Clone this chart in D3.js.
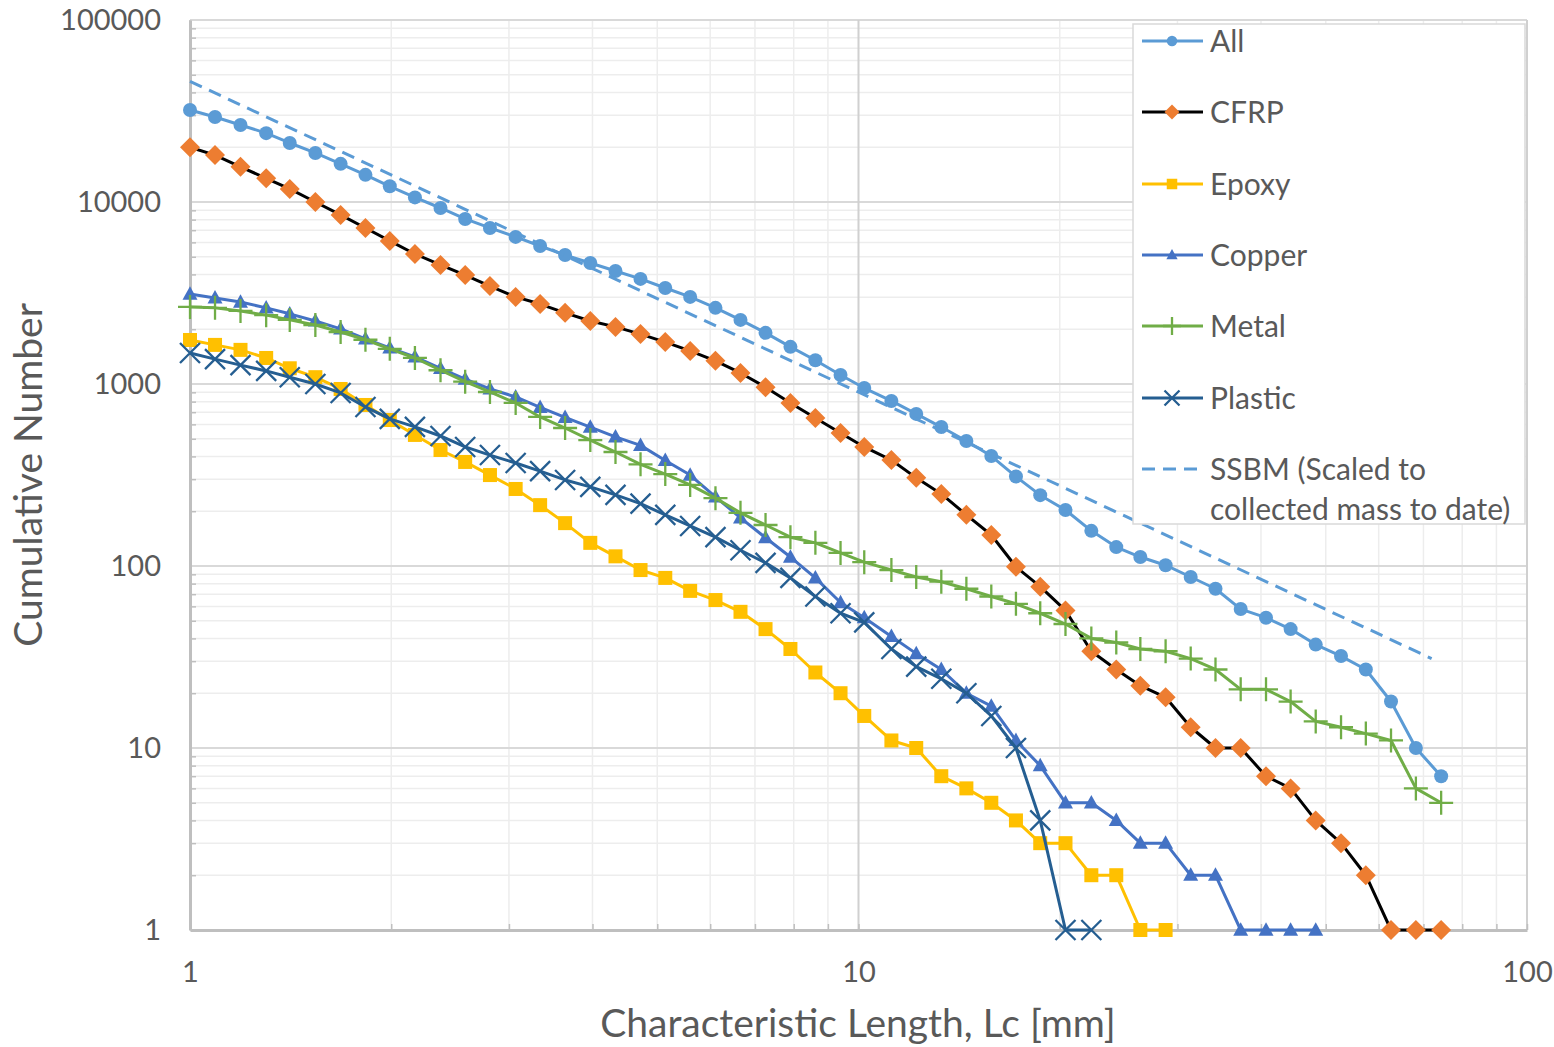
<!DOCTYPE html>
<html><head><meta charset="utf-8">
<script src="https://cdn.jsdelivr.net/npm/d3@7"></script>
<style>
body{margin:0;background:#fff;}
svg{display:block;}
text{font-family:Lato,"Open Sans",sans-serif;fill:#595959;}
</style>
</head><body>
<svg id="chart" width="1554" height="1047"></svg>
<script>
// ---- data ----
const lc = [1, 1.09, 1.19, 1.30, 1.41, 1.54, 1.68, 1.83, 1.99, 2.17, 2.37, 2.58, 2.81, 3.07, 3.34, 3.64, 3.97, 4.33, 4.72, 5.14,
  5.60, 6.11, 6.66, 7.26, 7.91, 8.62, 9.40, 10.2, 11.2, 12.2, 13.3, 14.5, 15.8, 17.2, 18.7, 20.4, 22.3, 24.3, 26.4, 28.8,
  31.4, 34.2, 37.3, 40.7, 44.3, 48.3, 52.7, 57.4, 62.6, 68.2, 74.4];
const allN = [32000, 29300, 26500, 23900, 21100, 18600, 16200, 14100, 12200, 10600, 9270, 8070, 7200, 6430, 5730, 5110, 4620, 4180, 3780, 3370,
  3010, 2620, 2250, 1910, 1600, 1350, 1120, 950, 807, 685, 580, 486, 402, 310, 245, 203, 156, 127, 112, 101,
  87, 75, 58, 52, 45, 37, 32, 27, 18, 10, 7];
const cfrpN = [20000, 18100, 15600, 13500, 11800, 10000, 8490, 7200, 6110, 5180, 4510, 3970, 3450, 3010, 2750, 2460, 2220, 2060, 1880, 1700,
  1520, 1340, 1150, 960, 787, 651, 538, 451, 382, 305, 249, 191, 148, 99, 77, 57, 34, 27, 22, 19,
  13, 10, 10, 7, 6, 4, 3, 2, 1, 1, 1];
const epoxyN = [1745, 1640, 1540, 1390, 1220, 1090, 939, 767, 634, 525, 434, 373, 316, 265, 216, 172, 134, 113, 95, 86,
  73, 65, 56, 45, 35, 26, 20, 15, 11, 10, 7, 6, 5, 4, 3, 3, 2, 2, 1, 1];
const copperN = [3120, 2970, 2820, 2620, 2430, 2220, 2010, 1770, 1580, 1410, 1220, 1065, 939, 849, 745, 655, 580, 512, 460, 380,
  316, 240, 184, 143, 112, 86, 63, 52, 41, 33, 27, 20, 17, 11, 8, 5, 5, 4, 3, 3,
  2, 2, 1, 1, 1, 1];
const metalN = [2650, 2620, 2520, 2390, 2250, 2110, 1930, 1750, 1560, 1390, 1190, 1030, 904, 787, 659, 573, 492, 423, 362, 320,
  279, 236, 196, 168, 144, 134, 118, 105, 95, 87, 82, 75, 68, 62, 55, 48, 40, 38, 35, 34,
  31, 27, 21, 21, 18, 14, 13, 12, 11, 6, 5];
const plasticN = [1480, 1370, 1270, 1180, 1090, 1000, 893, 748, 643, 581, 518, 451, 407, 368, 332, 297, 272, 246, 220, 191,
  166, 144, 122, 104, 86, 68, 55, 49, 35, 28, 24, 20, 15, 10, 4, 1, 1];
const ssbmLc = [1, 72];
const ssbmN = [46000, 31];

const seriesNames = ["All", "CFRP", "Epoxy", "Copper", "Metal", "Plastic"];
const ssbmName = ["SSBM (Scaled to", "collected mass to date)"];
const yTickValues = [1, 10, 100, 1000, 10000, 100000];
const xTickValues = [1, 10, 100];
const xTitle = "Characteristic Length, Lc [mm]";
const yTitle = "Cumulative Number";

// ---- styles ----
const styles = {
  "All":     {line: "#5B9BD5", fill: "#5B9BD5", marker: "circle",   lw: 3},
  "CFRP":    {line: "#000000", fill: "#ED7D31", marker: "diamond",  lw: 3},
  "Epoxy":   {line: "#FFC000", fill: "#FFC000", marker: "square",   lw: 3},
  "Copper":  {line: "#4472C4", fill: "#4472C4", marker: "triangle", lw: 3},
  "Metal":   {line: "#70AD47", fill: "#70AD47", marker: "plus",     lw: 3},
  "Plastic": {line: "#255E91", fill: "#255E91", marker: "cross",    lw: 3}
};
const seriesValues = [allN, cfrpN, epoxyN, copperN, metalN, plasticN];

const L = 190, R = 1527, T = 20, B = 930;
const svg = d3.select("#chart");
const x = d3.scaleLog().domain([1, 100]).range([L, R]);
const y = d3.scaleLog().domain([1, 100000]).range([B, T]);

// minor values
const yMinor = [], xMinor = [];
for (let d = 1; d < 100000; d *= 10) for (let k = 2; k <= 9; k++) yMinor.push(d * k);
for (let d = 1; d < 100; d *= 10) for (let k = 2; k <= 9; k++) xMinor.push(d * k);

// gridlines
const grid = svg.append("g");
grid.selectAll(".hmin").data(yMinor).join("line")
  .attr("x1", L).attr("x2", R).attr("y1", d => y(d)).attr("y2", d => y(d))
  .attr("stroke", "#ededed").attr("stroke-width", 1.5);
grid.selectAll(".vmin").data(xMinor).join("line")
  .attr("y1", T).attr("y2", B).attr("x1", d => x(d)).attr("x2", d => x(d))
  .attr("stroke", "#ededed").attr("stroke-width", 1.5);
grid.selectAll(".hmaj").data(yTickValues).join("line")
  .attr("x1", L).attr("x2", R).attr("y1", d => y(d)).attr("y2", d => y(d))
  .attr("stroke", "#d9d9d9").attr("stroke-width", 2);
grid.selectAll(".vmaj").data(xTickValues).join("line")
  .attr("y1", T).attr("y2", B).attr("x1", d => x(d)).attr("x2", d => x(d))
  .attr("stroke", "#d0d0d0").attr("stroke-width", 2);

// axes
const yAxis = d3.axisLeft(y).tickValues(yTickValues).tickFormat(d3.format("d")).tickSize(0).tickPadding(29);
const gy = svg.append("g").attr("transform", `translate(${L},0)`).call(yAxis);
gy.select(".domain").attr("stroke", "#bfbfbf").attr("stroke-width", 3);
gy.selectAll("text").style("font-size", "29px").attr("fill", "#595959");

const xAxis = d3.axisBottom(x).tickValues(xTickValues).tickFormat(d3.format("d")).tickSize(0).tickPadding(31);
const gx = svg.append("g").attr("transform", `translate(0,${B})`).call(xAxis);
gx.select(".domain").attr("stroke", "#bfbfbf").attr("stroke-width", 3);
gx.selectAll("text").style("font-size", "29px").attr("fill", "#595959");

// minor inward ticks
const gyMinor = svg.append("g").attr("transform", `translate(${L},0)`)
  .call(d3.axisRight(y).tickValues(yMinor).tickFormat("").tickSize(6));
gyMinor.select(".domain").remove();
gyMinor.selectAll("line").attr("stroke", "#bfbfbf").attr("stroke-width", 1.5);
const gxMinor = svg.append("g").attr("transform", `translate(0,${B})`)
  .call(d3.axisTop(x).tickValues(xMinor.concat(xTickValues.slice(1))).tickFormat("").tickSize(6));
gxMinor.select(".domain").remove();
gxMinor.selectAll("line").attr("stroke", "#bfbfbf").attr("stroke-width", 1.5);

// titles
svg.append("text").attr("x", 858).attr("y", 1037).attr("text-anchor", "middle")
  .style("font-size", "39px").text(xTitle);
svg.append("text").attr("transform", "translate(42,475) rotate(-90)").attr("text-anchor", "middle")
  .style("font-size", "39px").text(yTitle);

// marker drawing
function drawMarker(g, type, cx, cy, st, scale) {
  const s = scale || 1;
  if (type === "circle") {
    g.append("circle").attr("cx", cx).attr("cy", cy).attr("r", 7 * s).attr("fill", st.fill);
  } else if (type === "diamond") {
    const h = 10 * s;
    g.append("path").attr("d", `M${cx},${cy - h}L${cx + h},${cy}L${cx},${cy + h}L${cx - h},${cy}Z`).attr("fill", st.fill);
  } else if (type === "square") {
    const h = 7 * s;
    g.append("rect").attr("x", cx - h).attr("y", cy - h).attr("width", 2 * h).attr("height", 2 * h).attr("fill", st.fill);
  } else if (type === "triangle") {
    const h = 7.5 * s;
    g.append("path").attr("d", `M${cx},${cy - h * 1.05}L${cx + h},${cy + h * 0.75}L${cx - h},${cy + h * 0.75}Z`).attr("fill", st.fill);
  } else if (type === "plus") {
    const h = 12 * s;
    g.append("path").attr("d", `M${cx - h},${cy}L${cx + h},${cy}M${cx},${cy - h}L${cx},${cy + h}`)
      .attr("stroke", st.fill).attr("stroke-width", 2.3).attr("fill", "none");
  } else if (type === "cross") {
    const h = 10 * s;
    g.append("path").attr("d", `M${cx - h},${cy - h}L${cx + h},${cy + h}M${cx - h},${cy + h}L${cx + h},${cy - h}`)
      .attr("stroke", st.fill).attr("stroke-width", 2.3).attr("fill", "none");
  }
}

const line = d3.line().x(d => x(d[0])).y(d => y(d[1]));
const plot = svg.append("g");
seriesNames.forEach((name, i) => {
  const st = styles[name];
  const pts = seriesValues[i].map((v, j) => [lc[j], v]).filter(p => p[1] > 0);
  const g = plot.append("g");
  g.append("path").datum(pts).attr("d", line).attr("fill", "none")
    .attr("stroke", st.line).attr("stroke-width", st.lw).attr("stroke-linejoin", "round");
  pts.forEach(p => drawMarker(g, st.marker, x(p[0]), y(p[1]), st));
});

// SSBM dashed
const ssbmPts = ssbmLc.map((v, j) => [v, ssbmN[j]]);
plot.append("path").datum(ssbmPts).attr("d", line).attr("fill", "none")
  .attr("stroke", "#5B9BD5").attr("stroke-width", 3).attr("stroke-dasharray", "13,8");

// legend
const lg = svg.append("g");
lg.append("rect").attr("x", 1133).attr("y", 24).attr("width", 392).attr("height", 500)
  .attr("fill", "#fff").attr("stroke", "#d9d9d9").attr("stroke-width", 1.5);
const rowY = [41, 112, 184, 255, 326, 398, 469];
seriesNames.forEach((name, i) => {
  const st = styles[name];
  const cy = rowY[i];
  lg.append("line").attr("x1", 1142).attr("x2", 1203).attr("y1", cy).attr("y2", cy)
    .attr("stroke", st.line).attr("stroke-width", st.lw);
  drawMarker(lg, st.marker, 1172, cy, st, 0.75);
  lg.append("text").attr("x", 1210).attr("y", cy).attr("dy", "0.36em").style("font-size", "30px").text(name);
});
lg.append("line").attr("x1", 1142).attr("x2", 1203).attr("y1", rowY[6]).attr("y2", rowY[6])
  .attr("stroke", "#5B9BD5").attr("stroke-width", 3).attr("stroke-dasharray", "13,8");
const st7 = lg.append("text").attr("x", 1210).attr("y", rowY[6]).attr("dy", "0.36em").style("font-size", "30px");
st7.append("tspan").attr("x", 1210).text(ssbmName[0]);
st7.append("tspan").attr("x", 1210).attr("dy", "1.33em").text(ssbmName[1]);
</script>
</body></html>
